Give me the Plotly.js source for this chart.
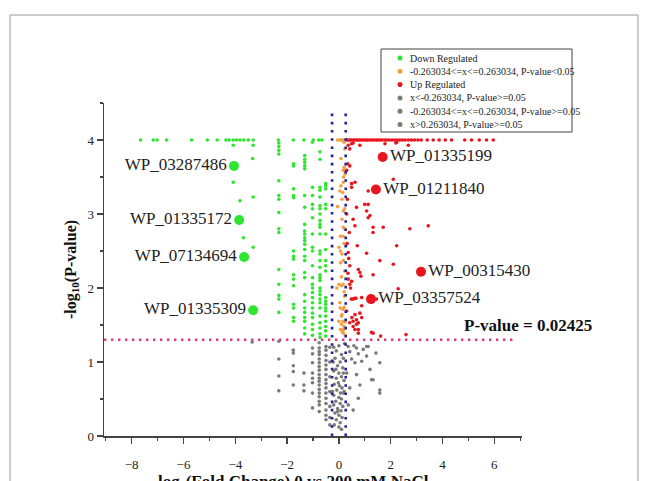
<!DOCTYPE html>
<html><head><meta charset="utf-8">
<script src="https://cdn.plot.ly/plotly-3.0.1.min.js"></script>
<style>html,body{margin:0;padding:0;background:#fff}#chart{width:646px;height:481px}</style>
</head><body><div id="chart"></div>
<script>
// ---------- DATA ----------
const legendLabels = [
  "Down Regulated",
  "-0.263034<=x<=0.263034, P-value<0.05",
  "Up Regulated",
  "x<-0.263034, P-value>=0.05",
  "-0.263034<=x<=0.263034, P-value>=0.05",
  "x>0.263034, P-value>=0.05"
];
const xTitle = "log<sub>2</sub>(Fold Change) 0 vs 200 mM NaCl";
const yTitle = "-log<sub>10</sub>(P-value)";
const fcThreshold = 0.263034;
const pThreshold = 1.301;            // -log10(0.05)
const pAnnotText = "P-value = 0.02425";

const downPts = [
  [-7.66,4.0],[-7.17,4.0],[-7.02,4.0],[-6.65,4.0],[-5.69,4.0],[-5.08,4.0],[-4.70,4.0],[-4.36,4.0],[-4.24,4.0],[-4.08,4.0],[-3.95,4.0],[-3.82,4.0],[-3.67,4.0],[-3.50,4.0],[-3.31,4.0],
  [-4.08,3.93],[-3.31,3.93],[-3.33,3.75],[-4.08,3.43],[-3.82,3.18],[-3.31,3.23],[-3.69,2.68],[-3.31,2.55],
  [-2.34,4.0],[-2.32,3.96],[-2.32,3.91],[-2.32,3.86],[-2.32,3.81],[-2.32,3.45],[-2.32,3.25],[-2.32,3.20],[-2.32,3.02],[-2.32,2.80],[-2.32,2.75],[-2.32,2.25],[-2.32,2.05],[-2.32,1.90],[-2.32,1.85],[-2.32,1.67],
  [-1.76,4.0],[-1.75,3.68],[-1.75,3.65],[-1.75,3.34],[-1.75,3.25],[-1.75,3.22],[-1.75,2.50],[-1.75,2.43],[-1.75,2.39],[-1.75,2.18],[-1.75,2.12],[-1.75,2.03],[-1.75,1.78],[-1.75,1.73],[-1.75,1.60],[-1.75,1.55],
  [-1.35,4.0],[-1.32,3.79],[-1.32,3.74],[-1.32,3.70],[-1.32,3.65],[-1.32,3.61],[-1.32,3.25],[-1.32,3.09],[-1.32,2.86],[-1.32,2.77],[-1.32,2.73],[-1.32,2.68],[-1.32,2.64],[-1.32,2.59],[-1.32,2.52],[-1.32,2.43],[-1.32,2.37],[-1.32,2.21],[-1.32,2.14],[-1.32,1.91],[-1.32,1.82],[-1.32,1.73],[-1.32,1.67],[-1.32,1.60],[-1.32,1.55],[-1.32,1.46],[-1.32,1.38],
  [-0.99,4.0],[-1.02,3.97],[-1.02,3.36],[-1.02,3.25],[-1.02,3.13],[-1.02,3.07],[-1.02,2.95],[-1.02,2.73],[-1.02,2.55],[-1.02,2.50],[-1.02,2.30],[-1.02,2.14],[-1.02,2.05],[-1.02,2.00],[-1.02,1.94],[-1.02,1.87],[-1.02,1.80],[-1.02,1.73],[-1.02,1.66],[-1.02,1.60],[-1.02,1.51],[-1.02,1.44],[-1.02,1.36],
  [-0.78,4.0],[-0.66,4.0],[-0.73,3.84],[-0.73,3.74],[-0.73,3.36],[-0.73,3.32],[-0.73,3.23],[-0.73,3.11],[-0.73,3.07],[-0.73,3.00],[-0.73,2.91],[-0.73,2.86],[-0.73,2.82],[-0.73,2.73],[-0.73,2.50],[-0.73,2.46],[-0.73,2.37],[-0.73,2.28],[-0.73,2.18],[-0.73,2.14],[-0.73,2.10],[-0.73,2.00],[-0.73,1.96],[-0.73,1.91],[-0.73,1.85],[-0.73,1.80],[-0.73,1.73],[-0.73,1.62],[-0.73,1.53],[-0.73,1.46],[-0.73,1.38],[-0.73,1.33],
  [-0.51,3.41],[-0.51,3.38],[-0.51,3.34],[-0.51,3.13],[-0.51,3.07],[-0.51,2.73],[-0.51,2.52],[-0.51,2.37],[-0.51,2.30],[-0.51,2.23],[-0.51,1.87],[-0.51,1.82],[-0.51,1.78],[-0.51,1.73],[-0.51,1.69],[-0.51,1.62],[-0.51,1.55],[-0.51,1.48],[-0.51,1.42],[-0.51,1.35]
];

const midSigPts = [
  [-0.05,4.0],[0.04,4.0],[0.10,4.0],[0.16,4.0],[0.22,4.0],[0.20,3.97],[0.23,3.88],[0.08,3.75],[0.20,3.63],[0.17,3.59],[0.24,3.54],[0.18,3.50],
  [0.17,3.43],[0.08,3.38],[0.04,3.31],[0.15,3.29],[0.12,3.20],[-0.05,3.10],[0.22,3.07],[0.17,3.04],[0.12,2.93],[0.17,2.82],[0.22,2.80],
  [0.06,2.70],[0.16,2.70],[0.20,2.60],[0.00,2.55],[0.06,2.50],[0.12,2.46],[0.17,2.37],[0.06,2.34],[0.22,2.23],[0.10,2.15],[0.00,2.05],
  [0.16,2.05],[0.10,2.03],[-0.08,2.00],[0.20,1.95],[0.22,1.89],[0.04,1.80],[0.20,1.74],[0.05,1.73],[0.16,1.71],[0.12,1.64],[0.10,1.62],
  [0.00,1.55],[0.16,1.55],[0.24,1.54],[0.10,1.51],[0.20,1.48],[0.06,1.44],[0.17,1.44],[0.16,1.42],[0.14,1.40],[0.23,1.37]
];

const upPts = [
  [0.30,4.0],[0.36,4.0],[0.42,4.0],[0.48,4.0],[0.55,4.0],[0.62,4.0],[0.68,4.0],[0.75,4.0],[0.82,4.0],[0.90,4.0],[0.98,4.0],[1.05,4.0],[1.12,4.0],[1.20,4.0],[1.28,4.0],[1.36,4.0],[1.45,4.0],
  [1.52,4.0],[1.60,4.0],[1.68,4.0],[1.78,4.0],[1.86,4.0],[1.95,4.0],[2.05,4.0],[2.15,4.0],[2.25,4.0],[2.35,4.0],[2.45,4.0],[2.56,4.0],[2.68,4.0],[2.80,4.0],[2.92,4.0],[3.05,4.0],[3.18,4.0],
  [3.41,4.0],[3.64,4.0],[3.87,4.0],[4.11,4.0],[4.35,4.0],[4.86,4.0],[5.12,4.0],[5.42,4.0],[5.70,4.0],[5.96,4.0],
  [0.55,3.96],[0.42,3.88],[1.78,3.95],[2.20,3.96],[2.68,3.93],[0.36,3.93],[0.81,3.93],[2.23,3.97],[0.49,3.95],
  [0.34,3.68],[0.30,3.59],[0.42,3.65],[0.49,3.41],[0.62,3.43],[0.49,3.36],[1.13,3.31],[2.10,3.47],[1.00,3.13],[1.13,3.13],[1.07,3.04],
  [1.20,2.98],[1.13,2.95],[0.68,3.09],[0.55,2.93],[0.62,2.84],[1.71,2.82],[1.32,2.75],[1.32,2.82],[2.74,2.80],[3.45,2.84],[0.71,2.57],
  [2.23,2.57],[1.07,2.47],[0.36,2.48],[1.58,2.37],[2.10,2.32],[0.75,2.25],[0.81,2.21],[0.85,2.16],[0.42,2.30],[1.32,2.18],[0.49,2.09],
  [0.42,2.05],[0.36,2.12],[2.29,1.99],[0.88,1.87],[0.54,1.85],[0.48,1.85],[0.60,1.86],[0.66,1.86],[1.45,1.85],[0.30,1.69],[0.88,1.76],
  [0.81,1.66],[0.88,1.60],[0.68,1.57],[0.75,1.53],[0.55,1.48],[0.62,1.44],[0.42,1.53],[1.26,1.40],[0.55,1.55],[0.68,1.51],[0.75,1.44],
  [1.32,1.39],[1.61,1.35],[2.59,1.37],[0.75,1.39],[0.62,1.64],[0.50,1.60],[0.35,2.20],[0.32,2.60],[0.40,2.75],[0.33,3.20],[0.30,3.00],
  [0.38,2.40],[0.45,2.00]
];

const nsLeftPts = [
  [-3.35,1.27],[-2.32,1.28],[-2.32,1.04],[-2.32,0.81],[-2.32,0.61],[-1.76,1.16],[-1.76,1.12],[-1.76,0.95],[-1.76,0.87],[-1.76,0.69],
  [-1.35,0.85],[-1.35,0.69],[-1.35,0.61],[-1.02,1.19],[-1.02,1.11],[-1.02,0.99],[-1.02,0.85],[-1.02,0.78],[-1.02,0.72],[-1.02,0.58],[-1.02,0.38],
  [-0.76,1.26],[-0.76,1.19],[-0.76,1.14],[-0.76,1.10],[-0.76,1.04],[-0.76,0.99],[-0.76,0.94],[-0.76,0.89],[-0.76,0.83],[-0.76,0.78],
  [-0.76,0.74],[-0.76,0.69],[-0.76,0.63],[-0.76,0.58],[-0.76,0.53],[-0.76,0.47],[-0.76,0.42],[-0.76,0.33],
  [-0.50,1.21],[-0.50,1.16],[-0.50,1.09],[-0.50,1.02],[-0.50,0.96],[-0.50,0.90],[-0.50,0.83],[-0.50,0.76],[-0.50,0.71],[-0.50,0.65],
  [-0.50,0.58],[-0.50,0.51],[-0.50,0.44],[-0.50,0.35],[-0.50,0.28],[-0.50,0.22],
  [-0.35,1.20],[-0.35,1.00],[-0.35,0.80],[-0.35,0.60],[-0.35,0.40],[-0.35,0.25],[-0.35,0.15]
];

const nsMidPts = [
  [-0.20,1.20],[-0.10,1.15],[0.00,1.22],[0.10,1.10],[-0.15,1.05],[0.05,1.00],[-0.05,0.95],[0.15,0.92],[-0.20,0.88],[0.00,0.85],
  [0.10,0.80],[-0.10,0.78],[0.20,0.75],[-0.18,0.70],[0.02,0.68],[0.12,0.65],[-0.08,0.62],[0.18,0.58],[-0.20,0.55],[0.00,0.52],
  [0.10,0.50],[-0.12,0.47],[0.05,0.44],[-0.20,0.42],[0.15,0.40],[-0.05,0.37],[0.08,0.34],[-0.15,0.31],[0.00,0.28],[0.12,0.25],
  [-0.10,0.22],[0.05,0.18],[-0.18,0.15],[0.00,0.12],[0.10,0.09],[-0.05,0.33],[0.20,0.60],[-0.22,1.00],[0.22,1.25],[-0.25,0.60],
  [0.17,1.05],[0.17,0.85],[-0.12,0.90],[-0.02,0.72],[0.06,0.58]
];

const nsRightPts = [
  [0.36,1.21],[0.42,1.14],[0.58,1.22],[0.68,1.19],[0.75,1.11],[0.94,1.17],[1.13,1.21],[1.43,1.12],[1.07,1.08],[0.88,1.01],
  [0.62,0.99],[0.49,1.04],[1.58,0.99],[1.20,0.90],[0.68,0.83],[1.32,0.76],[0.81,0.69],[0.42,0.65],[1.58,0.58],[0.75,0.51],
  [0.55,0.35],[0.36,0.42],[0.30,0.85],[1.58,0.62],[1.26,0.76],[1.07,1.21]
];

const downLabels = ["WP_03287486","WP_01335172","WP_07134694","WP_01335309"];
const downLabelX = [-4.05,-3.85,-3.66,-3.31];
const downLabelY = [3.65,2.92,2.42,1.70];
const upLabels = ["WP_01335199","WP_01211840","WP_00315430","WP_03357524"];
const upLabelX = [1.69,1.43,3.17,1.24];
const upLabelY = [3.77,3.33,2.22,1.85];

// ---------- STYLE ----------
const FONT = "Liberation Serif, 'Times New Roman', serif";
const GREEN = "#2ee62e", ORANGE = "#f0a040", RED = "#e8141e", GRAY = "#7a7a7a", BLUE = "#22229a", PINK = "#d63c7a";
const legendColors = [GREEN, ORANGE, RED, GRAY, GRAY, GRAY];

const W = 646, H = 481, ML = 104, MR = 124, MT = 103, MB = 45;
const PW = W - ML - MR, PH = H - MT - MB;
const px2paperX = px => (px - ML) / PW;
const px2paperY = py => (H - MB - py) / PH;

const xs = a => a.map(p => p[0]);
const ys = a => a.map(p => p[1]);
function pts(a, color, size) {
  return {type: "scatter", mode: "markers", x: xs(a), y: ys(a), showlegend: false, hoverinfo: "x+y",
          marker: {color: color, size: size || 3.6, line: {width: 0}}};
}

const traces = [
  pts(nsLeftPts, GRAY), pts(nsMidPts, GRAY), pts(nsRightPts, GRAY),
  pts(downPts, GREEN), pts(midSigPts, ORANGE), pts(upPts, RED),
  {type: "scatter", mode: "markers+text", x: downLabelX, y: downLabelY, text: downLabels, textposition: "middle left",
   cliponaxis: false, showlegend: false, marker: {color: GREEN, size: 10},
   textfont: {family: FONT, size: 17, color: "#222"}},
  {type: "scatter", mode: "markers+text", x: upLabelX, y: upLabelY, text: upLabels, textposition: "middle right",
   cliponaxis: false, showlegend: false, marker: {color: RED, size: 10},
   textfont: {family: FONT, size: 17, color: "#222"}}
];

const shapes = [
  // outer frame of the figure
  {type: "rect", xref: "paper", yref: "paper", x0: px2paperX(10), x1: px2paperX(638), y0: px2paperY(495), y1: px2paperY(15),
   line: {color: "#9a9a9a", width: 1}, layer: "below"},
  // thresholds
  {type: "line", xref: "x", yref: "y", x0: -fcThreshold, x1: -fcThreshold, y0: 0, y1: 4.42, line: {color: BLUE, width: 2.6, dash: "2.6px,5.6px"}},
  {type: "line", xref: "x", yref: "y", x0: fcThreshold, x1: fcThreshold, y0: 0, y1: 4.42, line: {color: BLUE, width: 2.6, dash: "2.6px,5.6px"}},
  {type: "line", xref: "x", yref: "y", x0: -9.07, x1: 6.8, y0: pThreshold, y1: pThreshold, line: {color: PINK, width: 2.4, dash: "2.4px,4.6px"}},
  // legend box
  {type: "rect", xref: "paper", yref: "paper", x0: px2paperX(381), x1: px2paperX(572), y0: px2paperY(132), y1: px2paperY(49),
   line: {color: "#444", width: 1}, fillcolor: "rgba(255,255,255,1)"}
];
const annotations = [
  {xref: "x", yref: "y", x: 4.75, y: 1.49, xanchor: "left", yanchor: "middle", showarrow: false,
   text: "<b>" + pAnnotText + "</b>", font: {family: FONT, size: 17, color: "#111"}},
  // x-axis title (sits below the margin, cut by the page edge as in the reference)
  {xref: "paper", yref: "paper", x: px2paperX(293), y: px2paperY(470), xanchor: "center", yanchor: "top", showarrow: false,
   text: "<b>" + xTitle + "</b>", font: {family: FONT, size: 17, color: "#111"}}
];
const rowsPy = [58, 71.3, 84.6, 97.9, 111.2, 124.5];
legendLabels.forEach((t, i) => {
  shapes.push({type: "circle", xref: "paper", yref: "paper", xsizemode: "pixel", ysizemode: "pixel",
    xanchor: px2paperX(400), yanchor: px2paperY(rowsPy[i]), x0: -2.5, x1: 2.5, y0: -2.5, y1: 2.5,
    fillcolor: legendColors[i], line: {width: 0}});
  annotations.push({xref: "paper", yref: "paper", x: px2paperX(408), y: px2paperY(rowsPy[i]), xanchor: "left", yanchor: "middle",
    showarrow: false, text: t, font: {family: FONT, size: 10, color: "#222"}});
});

const axisCommon = {showgrid: false, zeroline: false, showline: true, linecolor: "#444", linewidth: 1.5,
  ticks: "outside", ticklen: 6, tickwidth: 1.5, tickcolor: "#444",
  tickfont: {family: FONT, size: 13, color: "#222"}};

const layout = {
  width: W, height: H, margin: {l: ML, r: MR, t: MT, b: MB, pad: 0},
  paper_bgcolor: "#fff", plot_bgcolor: "#fff", showlegend: false,
  xaxis: Object.assign({}, axisCommon, {range: [-9.07, 7.07], tick0: 0, dtick: 2, ticklabelstandoff: 10,
    minor: {tick0: 0, dtick: 1, ticks: "outside", ticklen: 3, tickwidth: 1.2, tickcolor: "#444", showgrid: false}}),
  yaxis: Object.assign({}, axisCommon, {range: [0, 4.5], tick0: 0, dtick: 1,
    minor: {tick0: 0, dtick: 0.5, ticks: "outside", ticklen: 3, tickwidth: 1.2, tickcolor: "#444", showgrid: false},
    title: {text: "<b>" + yTitle + "</b>", standoff: 7, font: {family: FONT, size: 16, color: "#111"}}}),
  shapes: shapes, annotations: annotations
};

Plotly.newPlot("chart", traces, layout, {displayModeBar: false, staticPlot: true});
</script></body></html>
